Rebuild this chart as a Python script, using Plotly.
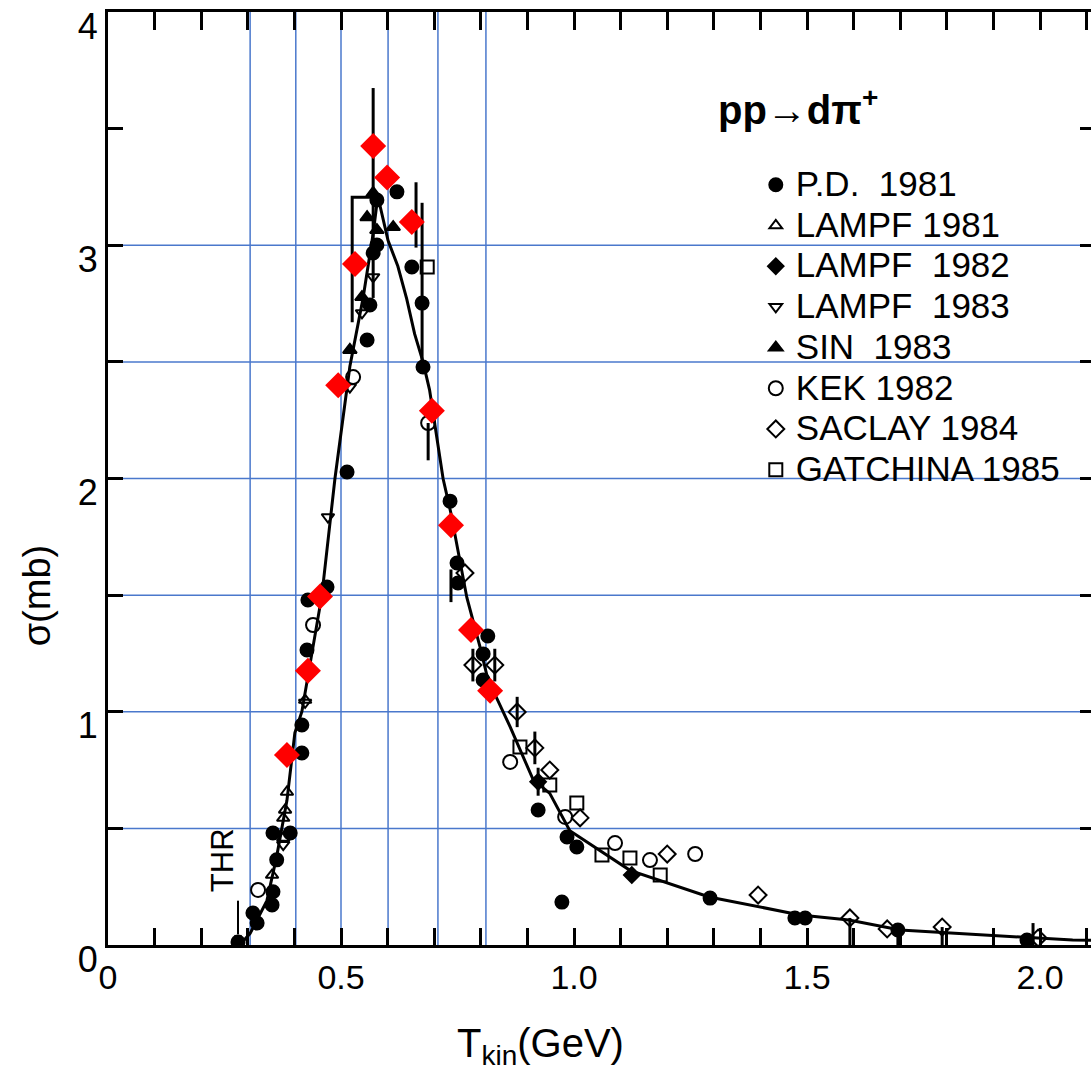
import plotly.graph_objects as go

# ---------------- data ----------------
curve_x = [0.283, 0.305, 0.341, 0.362, 0.384, 0.401, 0.416, 0.437, 0.459, 0.487, 0.519, 0.547, 0.569, 0.579,
           0.601, 0.622, 0.641, 0.658, 0.676, 0.690, 0.719, 0.736, 0.770, 0.798, 0.815, 0.863, 0.912, 0.948,
           0.991, 1.12, 1.29, 1.485, 1.59, 1.70, 1.878, 2.07, 2.11]
curve_y = [0.0, 0.05, 0.19, 0.38, 0.62, 0.91, 1.0, 1.25, 1.5, 2.0, 2.48, 2.77, 3.05, 3.21,
           3.02, 2.91, 2.77, 2.62, 2.50, 2.38, 2.0, 1.85, 1.49, 1.28, 1.14, 0.935, 0.71, 0.65,
           0.49, 0.32, 0.206, 0.129, 0.107, 0.064, 0.043, 0.021, 0.02]

red_x = [0.384, 0.429, 0.455, 0.494, 0.530, 0.569, 0.599, 0.652, 0.695, 0.736, 0.779, 0.820]
red_y = [0.815, 1.176, 1.494, 2.40, 2.92, 3.425, 3.29, 3.10, 2.29, 1.80, 1.35, 1.09]

pd81_x = [0.279, 0.311, 0.320, 0.352, 0.354, 0.362, 0.354, 0.391, 0.416, 0.416, 0.427, 0.429, 0.470, 0.513,
          0.556, 0.562, 0.569, 0.577, 0.577, 0.620, 0.652, 0.674, 0.676, 0.734, 0.749, 0.751, 0.815, 0.805,
          0.805, 0.923, 0.985, 1.006, 0.974, 1.292, 1.474, 1.496, 1.695, 1.972]
pd81_y = [0.013, 0.137, 0.094, 0.172, 0.228, 0.365, 0.480, 0.480, 0.823, 0.943, 1.265, 1.479, 1.535, 2.028,
          2.594, 2.744, 2.967, 3.001, 3.194, 3.229, 2.907, 2.752, 2.478, 1.903, 1.638, 1.552, 1.325, 1.248,
          1.136, 0.579, 0.463, 0.420, 0.184, 0.201, 0.116, 0.116, 0.064, 0.021]

lampf81_x = [0.384, 0.380, 0.376, 0.376, 0.352, 0.423]
lampf81_y = [0.656, 0.579, 0.544, 0.459, 0.300, 1.05]

lampf82_x = [0.923, 1.124]
lampf82_y = [0.70, 0.30]

lampf83_x = [0.472, 0.519, 0.569, 0.545, 0.423, 0.376]
lampf83_y = [1.835, 2.392, 2.864, 2.71, 1.04, 0.43]

sin83_x = [0.556, 0.569, 0.577, 0.519, 0.545, 0.612]
sin83_y = [3.12, 3.224, 3.065, 2.551, 2.778, 3.078]

kek82_x = [0.440, 0.687, 0.526, 0.863, 0.981, 1.088, 1.163, 1.260, 0.322]
kek82_y = [1.372, 2.238, 2.435, 0.785, 0.549, 0.437, 0.364, 0.390, 0.236]

saclay84_x = [0.766, 0.783, 0.830, 0.878, 0.916, 0.948, 1.013, 1.200, 1.395, 1.592, 1.672, 1.790, 1.996]
saclay84_y = [1.595, 1.20, 1.20, 0.999, 0.845, 0.75, 0.545, 0.39, 0.214, 0.116, 0.069, 0.077, 0.03]

gatchina85_x = [0.685, 0.884, 0.948, 1.006, 1.060, 1.120, 1.185]
gatchina85_y = [2.907, 0.849, 0.686, 0.609, 0.386, 0.373, 0.30]

# error bars (x, y, +err, -err)
err_x = [0.569, 0.661, 0.674, 0.687, 0.736, 0.783, 0.830, 0.878, 0.916, 0.923, 1.592, 1.695, 1.790, 1.985]
err_y = [3.224, 3.13, 2.752, 2.238, 1.54, 1.20, 1.20, 0.999, 0.845, 0.70, 0.116, 0.064, 0.077, 0.047]
err_p = [0.45, 0.14, 0.43, 0.0, 0.07, 0.07, 0.07, 0.065, 0.07, 0.06, 0.0, 0.0, 0.0, 0.047]
err_m = [0.45, 0.14, 0.25, 0.16, 0.07, 0.07, 0.07, 0.065, 0.07, 0.06, 0.116, 0.064, 0.077, 0.047]

# error box near the peak
box_x = [0.524, 0.524, 0.569]
box_y = [2.67, 3.206, 3.206]

# threshold arrow
thr_x = [0.279, 0.279]
thr_y = [0.19, 0.035]

grid_x = [0.305, 0.403, 0.5, 0.601, 0.708, 0.811]
grid_y = [0.5, 1.0, 1.5, 2.0, 2.5, 3.0]

x_major = [0, 0.5, 1.0, 1.5, 2.0]
x_labels = ["0", "0.5", "1.0", "1.5", "2.0"]
y_major = [0, 1, 2, 3, 4]
y_labels = ["0", "1", "2", "3", "4"]

series = [
    ("P.D.  1981", pd81_x, pd81_y, "circle", 13),
    ("LAMPF 1981", lampf81_x, lampf81_y, "triangle-up-open", 11),
    ("LAMPF  1982", lampf82_x, lampf82_y, "diamond", 12),
    ("LAMPF  1983", lampf83_x, lampf83_y, "triangle-down-open", 11),
    ("SIN  1983", sin83_x, sin83_y, "triangle-up", 12),
    ("KEK 1982", kek82_x, kek82_y, "circle-open", 14),
    ("SACLAY 1984", saclay84_x, saclay84_y, "diamond-open", 13),
    ("GATCHINA 1985", gatchina85_x, gatchina85_y, "square-open", 13),
]

FONT = "Liberation Sans, Arial, sans-serif"
BLUE = "#4a78cc"
XMAX = 2.1094

fig = go.Figure()

fig.add_trace(go.Scatter(x=curve_x, y=curve_y, mode="lines", line=dict(color="black", width=3),
                         showlegend=False, hoverinfo="skip"))
fig.add_trace(go.Scatter(x=box_x, y=box_y, mode="lines", line=dict(color="black", width=3),
                         showlegend=False, hoverinfo="skip"))
fig.add_trace(go.Scatter(x=err_x, y=err_y, mode="markers", marker=dict(size=1, color="rgba(0,0,0,0)"),
                         error_y=dict(type="data", symmetric=False, array=err_p, arrayminus=err_m,
                                      color="black", thickness=3, width=0),
                         showlegend=False, hoverinfo="skip"))
fig.add_trace(go.Scatter(x=thr_x, y=thr_y, mode="lines+markers", line=dict(color="black", width=2),
                         marker=dict(symbol="triangle-down", size=[0, 9], color="black"),
                         showlegend=False, hoverinfo="skip"))

for name, xs, ys, sym, sz in series:
    fig.add_trace(go.Scatter(
        x=xs, y=ys, mode="markers", name='<span style="font-size:35px">' + name + '</span>',
        marker=dict(symbol=sym, size=sz, color="black", line=dict(width=2, color="black")),
    ))

fig.add_trace(go.Scatter(x=red_x, y=red_y, mode="markers",
                         marker=dict(symbol="diamond", size=20, color="#ff0000", line=dict(width=0)),
                         showlegend=False))

fig.add_trace(go.Scatter(x=[None], y=[None], xaxis="x2", yaxis="y2", showlegend=False, hoverinfo="skip"))

shapes = []
for gx in grid_x:
    shapes.append(dict(type="line", xref="x", yref="y domain", x0=gx, x1=gx, y0=0, y1=1,
                       line=dict(color=BLUE, width=1.5), layer="below"))
for gy in grid_y:
    shapes.append(dict(type="line", xref="x domain", yref="y", x0=0, x1=1, y0=gy, y1=gy,
                       line=dict(color=BLUE, width=1.5), layer="below"))

annotations = [
    dict(text="<b>pp→dπ<sup>+</sup></b>", xref="paper", yref="paper", x=0.702, y=0.898,
         xanchor="center", yanchor="middle",
         showarrow=False, font=dict(family=FONT, size=40, color="black")),
    dict(text="σ(mb)", xref="paper", yref="paper", x=-0.072, y=0.375, textangle=-90,
         xanchor="center", yanchor="middle",
         showarrow=False, font=dict(family=FONT, size=38, color="black")),
    dict(text="T<sub>kin</sub>(GeV)", xref="paper", yref="paper", x=0.4395, y=-0.108,
         xanchor="center", yanchor="middle",
         showarrow=False, font=dict(family=FONT, size=40, color="black")),
    dict(text="THR", xref="paper", yref="paper", x=0.116, y=0.091, textangle=-90,
         xanchor="center", yanchor="middle",
         showarrow=False, font=dict(family=FONT, size=31, color="black")),
]

fig.update_layout(
    width=1091, height=1077,
    margin=dict(l=108, r=0, t=12, b=132),
    paper_bgcolor="white", plot_bgcolor="white",
    font=dict(family=FONT, color="black"),
    shapes=shapes,
    annotations=annotations,
    legend=dict(x=0.659, y=0.842, xanchor="left", yanchor="top", bgcolor="rgba(0,0,0,0)",
                font=dict(family=FONT, size=29, color="black"), itemwidth=30, tracegroupgap=0),
    xaxis=dict(range=[0, XMAX], showgrid=False, zeroline=False, showline=True, linecolor="black",
               linewidth=3, ticks="inside", ticklen=17, tickwidth=2.5, tickcolor="black",
               tickvals=x_major, ticktext=x_labels,
               minor=dict(dtick=0.1, tick0=0, ticks="inside", ticklen=17, tickwidth=2.5,
                          tickcolor="black", showgrid=False),
               tickfont=dict(family=FONT, size=34, color="black")),
    yaxis=dict(range=[0, 4], showgrid=False, zeroline=False, showline=True, linecolor="black",
               linewidth=3, ticks="inside", ticklen=15, tickwidth=3, tickcolor="black",
               tickvals=y_major, ticktext=y_labels, ticklabelshift=14,
               minor=dict(dtick=0.5, tick0=0, ticks="inside", ticklen=15, tickwidth=3,
                          tickcolor="black", showgrid=False),
               tickfont=dict(family=FONT, size=36, color="black")),
    xaxis2=dict(range=[0, XMAX], overlaying="x", side="top", showgrid=False, zeroline=False,
                showline=True, linecolor="black", linewidth=3, ticks="inside", ticklen=18,
                tickwidth=2.5, tickcolor="black", dtick=0.1, tick0=0, showticklabels=False),
    yaxis2=dict(range=[0, 4], overlaying="y", side="right", showgrid=False, zeroline=False,
                showline=False, ticks="inside", ticklen=11, tickwidth=3, tickcolor="black",
                dtick=0.5, tick0=0, showticklabels=False),
)

fig.write_html("out.html")
